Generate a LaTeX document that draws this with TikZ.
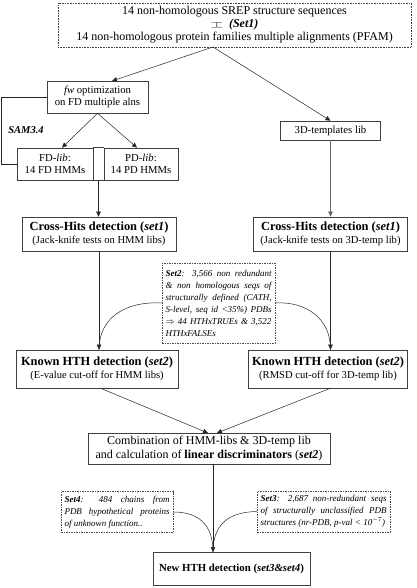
\documentclass[tikz,border=0pt]{standalone}
\usepackage{fontspec}
\setmainfont{Liberation Serif}
\usepackage{amssymb}
\usetikzlibrary{arrows.meta,calc}
\begin{document}
\begin{tikzpicture}[x=1pt,y=-1pt,
 box/.style={draw=black!75, line width=0.6pt, rectangle, inner sep=0pt, align=center, font=\fontsize{10.7}{12}\selectfont},
 twoline/.style={box, font=\fontsize{10.6}{12.5}\selectfont},
 setbox/.style={draw=black!70, dash pattern=on 1.5pt off 1pt, line width=0.5pt, inner xsep=3.5pt, inner ysep=2pt, font=\fontsize{9}{12}\selectfont\itshape, align=justify},
 arr/.style={draw=black!85, line width=0.5pt, -{Triangle[length=5pt,width=4.5pt]}},
 ln/.style={draw=black!85, line width=0.5pt}]
\newcommand{\bigb}[1]{{\fontsize{12.4}{12.5}\selectfont\bfseries #1}}
\useasboundingbox (0,0) rectangle (416,588);
% top
\node[box, densely dotted, minimum width=353pt, minimum height=44pt, font=\fontsize{12}{13}\selectfont] (top) at (234.5,25)
 {14 non-homologous SREP structure sequences\\ {\small$\sqsupset\!\sqsubset$}\ \ \textbf{\textit{(Set1)}}\\14 non-homologous protein families multiple alignments (PFAM)};
\coordinate (apex) at (213,47);
\node[box, minimum width=101pt, minimum height=32pt] (fw) at (97.5,97) {\textit{fw} optimization\\on FD multiple alns};
\node[box, minimum width=100pt, minimum height=19pt] (tmpl) at (330.5,130.5) {3D-templates lib};
\coordinate (fwin) at (112,81);
\draw[arr] (apex) -- (fwin);
\draw[arr] (apex) -- (tmpl.north);
% FD / PD
\node[box, minimum width=76pt, minimum height=32pt] (fd) at (55,164) {FD-\textit{lib}:\\14 FD HMMs};
\node[box, minimum width=74pt, minimum height=32pt] (pd) at (141,164) {PD-\textit{lib}:\\14 PD HMMs};
\draw[draw=black!75, line width=0.6pt] (fd.north east) -- (pd.north west) (fd.south east) -- (pd.south west);
\coordinate (fdpd) at ($(fd.south east)!0.5!(pd.south west)$);
\draw[arr] (fw.south) -- ($(fd.north)+(7,0)$);
\draw[arr] (fw.south) -- ($(pd.north)+(-4,0)$);
% SAM loop
\node[font=\fontsize{10.5}{11}\selectfont\bfseries\itshape] (sam) at (26,130) {SAM3.4};
\coordinate (lp1) at (1,97);
\coordinate (lp2) at (1,164);
\draw[ln] (fw.west) -- (lp1) -- (lp2) -- (fd.west);
% Cross hits
\node[twoline, minimum width=154pt, minimum height=34pt] (ch1) at (99,234)
 {\bigb{Cross-Hits detection (\textit{set1})}\\(Jack-knife tests on HMM libs)};
\node[twoline, minimum width=154pt, minimum height=34pt] (ch2) at (330.5,234)
 {\bigb{Cross-Hits detection (\textit{set1})}\\(Jack-knife tests on 3D-temp lib)};
\draw[arr] (fdpd) -- (fdpd |- ch1.north);
\draw[arr, draw=black!60] (tmpl.south) -- (ch2.north);
% Known HTH
\node[twoline, minimum width=162pt, minimum height=38pt] (kh1) at (97,369)
 {\bigb{Known HTH detection (\textit{set2})}\\(E-value cut-off for HMM libs)};
\node[twoline, minimum width=159pt, minimum height=38pt] (kh2) at (328,369)
 {\bigb{Known HTH detection (\textit{set2})}\\(RMSD cut-off for 3D-temp lib)};
\coordinate (tip1) at (ch1.south |- kh1.north);
\coordinate (tip2) at (ch2.south |- kh2.north);
\draw[arr] (ch1.south) -- (tip1);
\draw[arr] (ch2.south) -- (tip2);
% Set2
\node[setbox, text width=106pt, minimum height=80pt] (set2) at (218.5,303)
 {\textbf{Set2}: 3,566 non redundant\linebreak \& non homologous seqs of\linebreak structurally defined (CATH,\linebreak S-level, seq id <35\%) PDBs\linebreak $\Rightarrow$ 44 HTHxTRUEs \& 3,522\linebreak HTHxFALSEs};
\draw[ln] (set2.west) .. controls (125,301) and (99,318) .. (tip1);
\draw[ln] (set2.east) .. controls (305,301) and (331,318) .. (tip2);
% Combination
\node[box, minimum width=242pt, minimum height=31pt, font=\fontsize{12}{13.5}\selectfont] (comb) at (209,448.5)
 {Combination of HMM-libs \& 3D-temp lib\\and calculation of \textbf{linear discriminators} (\textit{\textbf{set2}})};
\coordinate (cin1) at (208,433);
\coordinate (cin2) at (217,433);
\coordinate (kout1) at (100,388);
\coordinate (kout2) at (331,388);
\draw[arr] (kout1) -- (cin1);
\draw[arr] (kout2) -- (cin2);
% Set4 / Set3
\node[setbox, text width=105pt, minimum height=41pt] (set4) at (117,512)
 {\textbf{Set4}: 484 chains from\linebreak PDB hypothetical proteins\linebreak of unknown function..};
\node[setbox, text width=126pt, minimum height=41pt] (set3) at (323.5,511.5)
 {\textbf{Set3}: 2,687 non-redundant seqs\linebreak of structurally unclassified PDB\linebreak structures (nr-PDB, p-val < 10$^{-7}$)};
% New HTH
\node[box, minimum width=157pt, minimum height=33pt, font=\fontsize{10.8}{14}\selectfont\bfseries] (new) at (231.5,568.5)
 {New HTH detection (\textit{set3\&set4})};
\coordinate (newin) at (213,552);
\draw[arr] (comb.south -| newin) -- (newin);
\draw[ln] (set4.east) .. controls (198,512) and (213,524) .. (newin);
\draw[ln] (set3.west) .. controls (229,512) and (213,524) .. (newin);
\end{tikzpicture}
\end{document}
